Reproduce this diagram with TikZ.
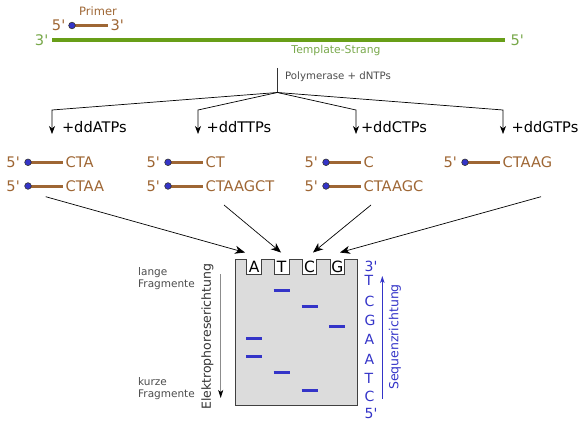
\documentclass[tikz,border=0pt]{standalone}
\usepackage{fontspec}
\setmainfont{DejaVu Sans}[Ligatures=TeXOff]
\usetikzlibrary{arrows.meta}
\definecolor{braun}{RGB}{158,102,52}
\definecolor{gruen}{RGB}{104,158,24}
\definecolor{gruentext}{RGB}{120,168,74}
\definecolor{blau}{RGB}{52,52,200}
\definecolor{gelgrau}{RGB}{220,220,220}
\tikzset{
  gross/.style={font=\fontsize{14.6}{17}\selectfont,inner sep=0pt},
  klein/.style={font=\fontsize{10.5}{11.6}\selectfont,inner sep=0pt},
  strang/.style={braun,line width=3pt},
  punkt/.style={fill=blau,draw=black!80,line width=0.6pt},
  pfeil/.style={-{Stealth[length=8pt,width=6pt,inset=2.5pt]},line width=0.7pt},
  gelpfeil/.style={-{Stealth[length=10pt,width=8pt,inset=3pt]},line width=0.7pt},
  bande/.style={blau,line width=3.2pt},
}
\begin{document}
\begin{tikzpicture}[x=1pt,y=-1pt]
  \useasboundingbox (0,0) rectangle (585,425);
  % Primer
  \coordinate (P5) at (72,25.5);
  \node[gross,braun,anchor=west,inner sep=2.5pt] (p3) at (108,25.5) {3'};
  \node[gross,braun,anchor=east] (p5) at (65.5,25.5) {5'};
  \node[klein,braun,font=\fontsize{11.5}{13}\selectfont] (primer) at (98,11) {Primer};
  \draw[strang] (P5) -- (p3.west);
  \filldraw[punkt] (P5) circle (3.3pt);
  % Template-Strang
  \node[gross,gruentext,anchor=east,inner sep=3.5pt] (t3) at (52,40) {3'};
  \node[gross,gruentext,anchor=west,inner sep=5.5pt] (t5) at (505,40) {5'};
  \draw[gruen,line width=3.2pt] (t3.east) -- (t5.west);
  \node[klein,gruentext,font=\fontsize{10.8}{12}\selectfont] (tname) at (336,51) {Template-Strang};
  % Polymerase, Verzweigung
  \coordinate (V) at (277.3,68);
  \coordinate (J) at (277.3,92.5);
  \draw[line width=0.7pt,black!80] (V) -- (J);
  \node[klein,font=\fontsize{10.2}{12}\selectfont,text=black!70,anchor=west] (poly) at (285,76.7) {Polymerase + dNTPs};
  \foreach \x/\l/\t [count=\i] in {52/61.8/A, 198/206.5/T, 356/360.8/C, 503/511.5/G} {
    \coordinate (b\i) at (\x,110);
    \coordinate (e\i) at (\x,134);
    \draw[pfeil] (J) -- (b\i) -- (e\i);
    \node[gross,anchor=west] (dd\i) at (\l,127) {+dd\t TPs};
  }
  % Fragmente
  \foreach \x/\y/\s [count=\i] in {28/162.3/CTA, 28/186/CTAA, 168/162.3/CT, 168/186/CTAAGCT,
      326/162.3/C, 326/186/CTAAGC, 465/162.3/CTAAG} {
    \coordinate (d\i) at (\x,\y);
    \node[gross,braun,anchor=east] (q\i) at (\x-8,\y) {5'};
    \node[gross,braun,anchor=west,inner sep=2.5pt] (f\i) at (\x+35,\y) {\s};
    \draw[strang] (d\i) -- (f\i.west);
    \filldraw[punkt] (d\i) circle (3.3pt);
  }
  % Pfeile zum Gel
  \foreach \sx/\sy/\ex [count=\i] in {45.7/196.7/245, 224/205/281, 371/205/313, 541/196.7/340} {
    \coordinate (a\i) at (\sx,\sy);
    \coordinate (w\i) at (\ex,252.5);
    \draw[gelpfeil] (a\i) -- (w\i);
  }
  % Gel
  \filldraw[fill=gelgrau,draw=black!75,line width=1pt] (235.7,259)
    \foreach \x in {254.2,281.7,309.5,337.4} {
      -- (\x-7.35,259) -- (\x-7.35,274.7) -- (\x+7.35,274.7) -- (\x+7.35,259) }
    -- (357.3,259) -- (357.3,405) -- (235.7,405) -- cycle;
  \foreach \x/\b in {254.2/A, 281.7/T, 309.5/C, 337.4/G}
    \node[font=\fontsize{15.5}{17}\selectfont,inner sep=0pt] (well\b) at (\x,267) {\b};
  \foreach \x/\y in {281.7/290.7, 309.5/306.7, 337.4/326.3, 254.2/338.7,
      254.2/356.3, 281.7/372.3, 309.5/390.3}
    \draw[bande] (\x-8,\y) -- (\x+8,\y);
  % Sequenz
  \foreach \t/\y [count=\i] in {3'/266.7, T/280, C/301, G/320, A/339, A/359, T/378, C/396.7, 5'/413}
    \node[font=\fontsize{14}{16}\selectfont,text=blau,anchor=west,inner sep=0pt] (seq\i) at (364.5,\y) {\t};
  \coordinate (sq1) at (382.3,399);
  \coordinate (sq2) at (382.3,276);
  \draw[blau,line width=0.9pt,-{Stealth[length=7pt,width=4.5pt,inset=2pt]}] (sq1) -- (sq2);
  \node[font=\fontsize{12.5}{14}\selectfont,text=blau,rotate=90,inner sep=0pt] (seqr) at (395,337) {Sequenzrichtung};
  % Elektrophorese
  \coordinate (el1) at (220.7,274);
  \coordinate (el2) at (220.7,398);
  \draw[black!45,line width=0.9pt,-{Stealth[black,length=8pt,width=5pt,inset=2pt]}] (el1) -- (el2);
  \node[font=\fontsize{12.5}{14}\selectfont,text=black!80,rotate=90,inner sep=0pt] (elek) at (207.4,336.7) {Elektrophoreserichtung};
  \node[klein,text=black!70,align=left,anchor=west] (lang) at (138,278.3) {lange\\Fragmente};
  \node[klein,text=black!70,align=left,anchor=west] (kurz) at (138,388.5) {kurze\\Fragmente};
\end{tikzpicture}
\end{document}
